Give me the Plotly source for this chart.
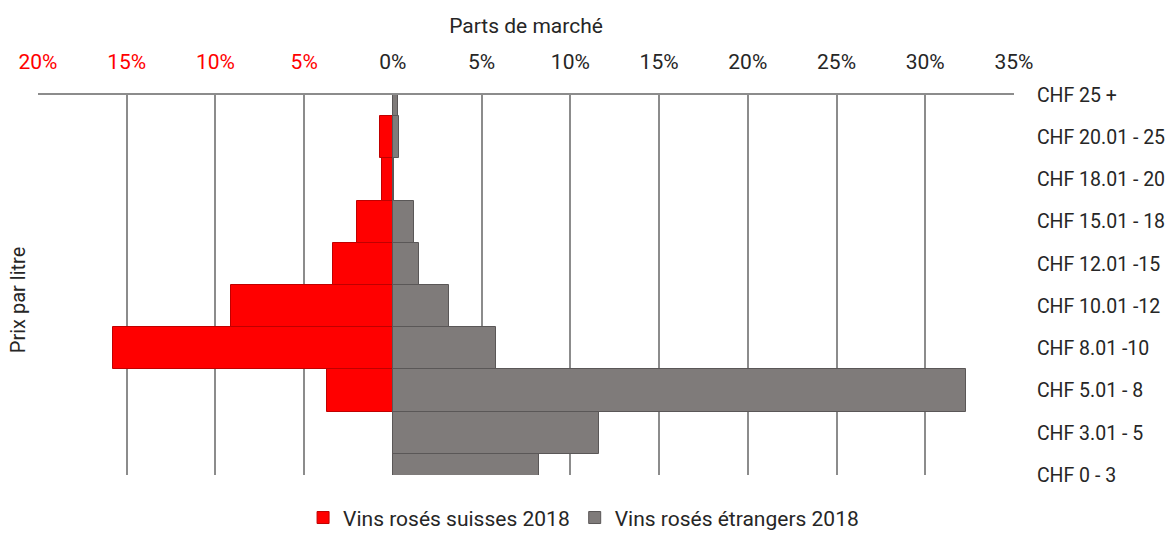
import plotly.graph_objects as go

categories = ["CHF 0 - 3", "CHF 3.01 - 5", "CHF 5.01 - 8", "CHF 8.01 -10", "CHF 10.01 -12",
              "CHF 12.01 -15", "CHF 15.01 - 18", "CHF 18.01 - 20", "CHF 20.01 - 25", "CHF 25 +"]
suisses = [0.0, 0.0, 3.7, 15.8, 9.1, 3.4, 2.0, 0.6, 0.7, 0.0]
etrangers = [8.25, 11.6, 32.3, 5.8, 3.15, 1.45, 1.2, 0.05, 0.35, 0.3]
tick_vals = [-20, -15, -10, -5, 0, 5, 10, 15, 20, 25, 30, 35]
tick_text = ["<span style='color:#ff0000'>20%</span>", "<span style='color:#ff0000'>15%</span>",
             "<span style='color:#ff0000'>10%</span>", "<span style='color:#ff0000'>5%</span>",
             "0%", "5%", "10%", "15%", "20%", "25%", "30%", "35%"]

FONT = "Roboto, DejaVu Sans, sans-serif"
TXT = "#262626"

fig = go.Figure()
fig.add_trace(go.Bar(
    y=categories, x=[-v for v in suisses], orientation="h", width=1,
    name="Vins rosés suisses 2018",
    marker=dict(color="#ff0000", line=dict(color="#c00000", width=1)),
))
fig.add_trace(go.Bar(
    y=categories, x=etrangers, orientation="h", width=1,
    name="Vins rosés étrangers 2018",
    marker=dict(color="#7f7b7a", line=dict(color="#5a5757", width=1)),
))

fig.update_layout(
    width=1173, height=535,
    margin=dict(l=38, r=159, t=95, b=60, autoexpand=False),
    barmode="overlay",
    bargap=0,
    paper_bgcolor="white", plot_bgcolor="white",
    font=dict(family=FONT, size=20, color=TXT),
    showlegend=True,
    legend=dict(orientation="h", xref="container", yref="container",
                x=0.4975, xanchor="center", y=0.032, yanchor="middle",
                font=dict(size=21, color=TXT), itemwidth=30,
                traceorder="normal"),
    xaxis=dict(
        side="top", range=[-20, 35], tickvals=tick_vals, ticktext=tick_text,
        tickfont=dict(size=21, color=TXT), automargin=False,
        showgrid=True, gridcolor="#8c8c8c", gridwidth=2,
        zeroline=True, zerolinecolor="#8c8c8c", zerolinewidth=2,
        showline=True, linecolor="#8c8c8c", linewidth=2,
        ticks="outside", ticklen=16, tickcolor="rgba(0,0,0,0)",
        title=dict(text="Parts de marché", standoff=10, font=dict(size=21, color=TXT)),
        fixedrange=True,
    ),
    yaxis=dict(
        side="right", categoryorder="array", categoryarray=categories,
        range=[0, 9], showgrid=False, zeroline=False, showline=False,
        tickfont=dict(size=19.5, color=TXT), automargin=False,
        ticks="outside", ticklen=18, tickcolor="rgba(0,0,0,0)",
        fixedrange=True,
    ),
    annotations=[dict(
        text="Prix par litre", xref="paper", yref="paper",
        x=-0.0205, y=0.46, xanchor="center", yanchor="middle",
        textangle=-90, showarrow=False,
        font=dict(size=20, color=TXT),
    )],
)

fig.write_html("out.html", config={"displayModeBar": False},
               post_script="document.body.style.margin='0px';")
